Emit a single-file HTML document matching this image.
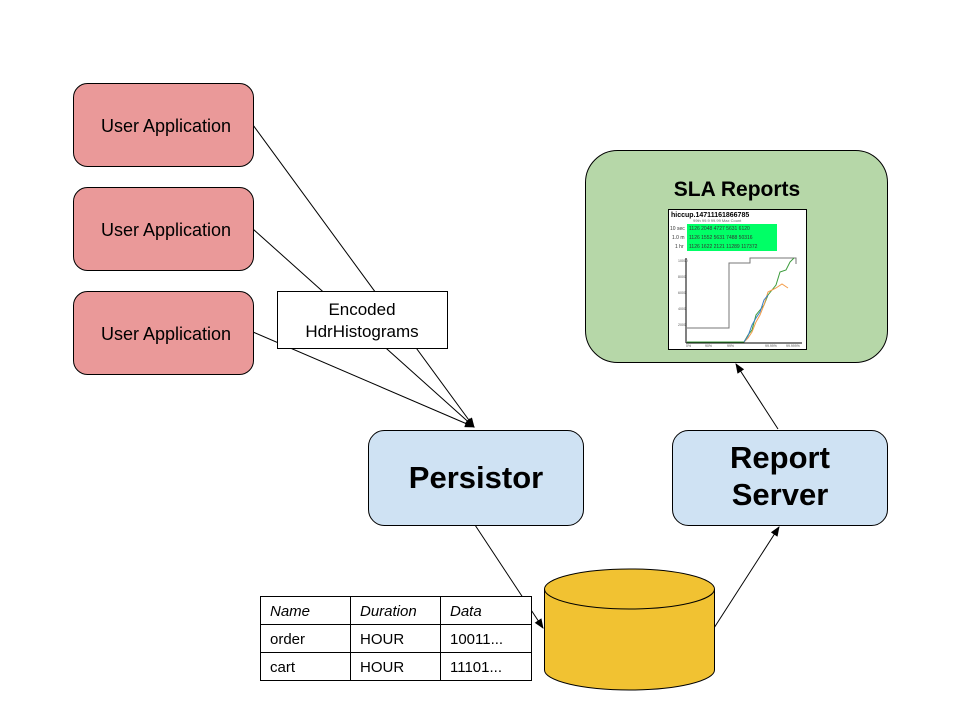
<!DOCTYPE html>
<html><head><meta charset="utf-8"><style>
html,body{margin:0;padding:0;background:#fff;}
svg{display:block;font-family:"Liberation Sans",Arial,sans-serif;}
</style></head><body>
<svg width="960" height="720" viewBox="0 0 960 720" xmlns="http://www.w3.org/2000/svg">
<defs>
<marker id="ah" markerWidth="10" markerHeight="8" refX="9" refY="4" orient="auto" markerUnits="userSpaceOnUse">
<path d="M0,0 L10,4 L0,8 Z" fill="#000"/>
</marker>
</defs>
<rect width="960" height="720" fill="#fff"/>

<!-- lines into persistor -->
<g stroke="#000" stroke-width="1" fill="none">
<line x1="253" y1="125" x2="474" y2="427" marker-end="url(#ah)"/>
<line x1="253" y1="229" x2="474" y2="427" marker-end="url(#ah)"/>
<line x1="253" y1="332" x2="474" y2="427" marker-end="url(#ah)"/>
<line x1="475" y1="525" x2="543" y2="628" marker-end="url(#ah)"/>
<line x1="714" y1="628" x2="779" y2="527" marker-end="url(#ah)"/>
<line x1="778" y1="429" x2="736" y2="364" marker-end="url(#ah)"/>
</g>

<!-- user apps -->
<g fill="#ea9999" stroke="#000" stroke-width="1">
<rect x="73.5" y="83.5" width="180" height="83" rx="14"/>
<rect x="73.5" y="187.5" width="180" height="83" rx="14"/>
<rect x="73.5" y="291.5" width="180" height="83" rx="14"/>
</g>
<g font-size="18" text-anchor="middle" fill="#000">
<text x="166" y="132">User Application</text>
<text x="166" y="236">User Application</text>
<text x="166" y="340">User Application</text>
</g>

<!-- encoded box -->
<rect x="277.5" y="291.5" width="170" height="57" fill="#fff" stroke="#000"/>
<text x="362" y="315" font-size="17" text-anchor="middle">Encoded</text>
<text x="362" y="337" font-size="17" text-anchor="middle">HdrHistograms</text>

<!-- persistor / report server -->
<rect x="368.5" y="430.5" width="215" height="95" rx="16" fill="#cfe2f3" stroke="#000"/>
<text x="476" y="488" font-size="31" font-weight="bold" text-anchor="middle">Persistor</text>
<rect x="672.5" y="430.5" width="215" height="95" rx="16" fill="#cfe2f3" stroke="#000"/>
<text x="780" y="468" font-size="31" font-weight="bold" text-anchor="middle">Report</text>
<text x="780" y="505" font-size="31" font-weight="bold" text-anchor="middle">Server</text>

<!-- SLA -->
<rect x="585.5" y="150.5" width="302" height="212" rx="32" fill="#b6d7a8" stroke="#000"/>
<text x="737" y="196" font-size="21" font-weight="bold" text-anchor="middle">SLA Reports</text>
<rect x="668.5" y="209.5" width="138" height="140" fill="#fff" stroke="#000"/>
<text x="671" y="217" font-size="7" font-weight="bold">hiccup.14711161866785</text>
<text x="693" y="222" font-size="4" fill="#666">99th  99.9  99.99   Max   Count</text>
<rect x="687" y="224" width="90" height="27" fill="#00ff66"/>
<g font-size="5" fill="#333">
<text x="670" y="230">10 sec</text><text x="689" y="230">1126  2048  4727   5631   6120</text>
<text x="672" y="239">1.0 m</text><text x="689" y="239">1126  1552  5631   7488   50316</text>
<text x="675" y="248">1 hr</text><text x="689" y="248">1126  1622  2121   11289  117372</text>
</g>
<g fill="none" stroke-width="1">
<line x1="686" y1="258" x2="686" y2="343" stroke="#000"/>
<line x1="686" y1="343" x2="802" y2="343" stroke="#000"/>
<polyline points="687,328 729,328 729,263 750,263 750,258 796,258 796,264" stroke="#777"/>
<polyline points="687,342 744,342 748,335 752,330 756,315 760,310 764,305 768,295 772,290 776,285 780,272 786,270 790,262 794,258" stroke="#3a9b3a"/>
<polyline points="744,342 748,338 752,332 756,322 760,315 764,305 768,292 772,290 776,288 782,284 788,288" stroke="#f39c4a"/>
<polyline points="744,342 748,336 752,325 756,318 760,312 764,300 768,295" stroke="#3b7fc4"/>
</g>
<g font-size="3.5" fill="#555">
<text x="678" y="262">10000</text><text x="678" y="278">8000</text><text x="678" y="294">6000</text><text x="678" y="310">4000</text><text x="678" y="326">2000</text>
<text x="686" y="347">0%</text><text x="705" y="347">90%</text><text x="727" y="347">99%</text><text x="765" y="347">99.99%</text><text x="786" y="347">99.999%</text>
</g>

<!-- cylinder -->
<path d="M544.5,589 L544.5,670 A85,20 0 0 0 714.5,670 L714.5,589" fill="#f1c232" stroke="#000"/>
<ellipse cx="629.5" cy="589" rx="85" ry="20" fill="#f1c232" stroke="#000"/>

<!-- table -->
<g stroke="#000" stroke-width="1" fill="none">
<rect x="260.5" y="596.5" width="271" height="84" fill="#fff"/>
<line x1="260.5" y1="624.5" x2="531.5" y2="624.5"/>
<line x1="260.5" y1="652.5" x2="531.5" y2="652.5"/>
<line x1="350.5" y1="596.5" x2="350.5" y2="680.5"/>
<line x1="440.5" y1="596.5" x2="440.5" y2="680.5"/>
</g>
<g font-size="15" fill="#000">
<text x="270" y="616" font-style="italic">Name</text>
<text x="360" y="616" font-style="italic">Duration</text>
<text x="450" y="616" font-style="italic">Data</text>
<text x="270" y="644">order</text>
<text x="360" y="644">HOUR</text>
<text x="450" y="644">10011...</text>
<text x="270" y="672">cart</text>
<text x="360" y="672">HOUR</text>
<text x="450" y="672">11101...</text>
</g>
</svg>
</body></html>
